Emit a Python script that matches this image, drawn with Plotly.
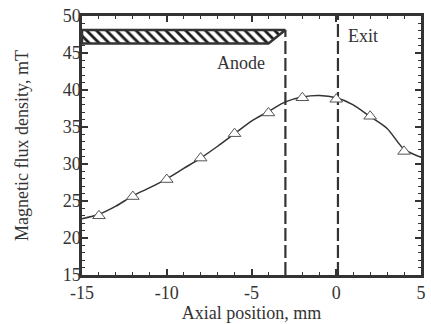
import plotly.graph_objects as go

# ---- data ----
marker_x = [-14, -12, -10, -8, -6, -4, -2, 0, 2, 4]
marker_y = [23.0, 25.6, 27.9, 30.8, 34.1, 36.9, 38.95, 38.75, 36.45, 31.7]

curve_x = [-15, -14, -13, -12, -11, -10, -9, -8, -7, -6, -5, -4, -3, -2, -1, 0, 1, 2, 3, 4, 5]
curve_y = [22.6, 23.2, 24.3, 25.7, 26.8, 28.0, 29.4, 30.8, 32.4, 34.1, 35.8, 37.1, 38.4, 39.05, 39.25, 38.95, 38.0, 36.4, 34.8, 32.0, 30.9]

anode_x = [-15, -4, -3, -15, -15]
anode_y = [46.3, 46.3, 48.1, 48.1, 46.3]

anode_end_x = -3
exit_x = 0.1
y_min, y_max = 15, 50
x_min, x_max = -15, 5

x_ticks = [-15, -10, -5, 0, 5]
y_ticks = [15, 20, 25, 30, 35, 40, 45, 50]

FONT = "Liberation Serif"
DARK = "#333333"

fig = go.Figure()

# anode (hatched)
fig.add_trace(go.Scatter(
    x=anode_x, y=anode_y, mode="lines", fill="toself",
    fillcolor="white",
    fillpattern=dict(shape="\\", size=7, solidity=0.4, fgcolor="#1a1a1a", fgopacity=1,
                     bgcolor="white", fillmode="replace"),
    line=dict(color=DARK, width=2.5), hoverinfo="skip", showlegend=False))

# dashed lines
fig.add_trace(go.Scatter(
    x=[anode_end_x, anode_end_x], y=[y_min, anode_y[2]], mode="lines",
    line=dict(color=DARK, width=2.2, dash="13px,4px"), showlegend=False))
fig.add_trace(go.Scatter(
    x=[exit_x, exit_x], y=[y_min, y_max], mode="lines",
    line=dict(color=DARK, width=2.2, dash="13px,4px"), showlegend=False))

# curve
fig.add_trace(go.Scatter(
    x=curve_x, y=curve_y, mode="lines", line=dict(color=DARK, width=1.5, shape="spline", smoothing=0.8),
    showlegend=False))

# markers
fig.add_trace(go.Scatter(
    x=marker_x, y=marker_y, mode="markers",
    marker=dict(symbol="triangle-up", size=11, color="white", line=dict(color="#555555", width=1)),
    showlegend=False))

fig.add_annotation(x=-5.6, y=43.7, text="Anode", showarrow=False,
                   font=dict(family=FONT, size=18, color=DARK))
fig.add_annotation(x=1.57, y=47.3, text="Exit", showarrow=False,
                   font=dict(family=FONT, size=18, color=DARK))

axis_common = dict(
    showline=True, linewidth=2.5, linecolor=DARK, mirror="ticks",
    ticks="inside", ticklen=6, tickwidth=1.5, tickcolor=DARK,
    showgrid=False, zeroline=False,
    tickfont=dict(family=FONT, size=18, color=DARK),
)

fig.update_xaxes(range=[x_min, x_max], tickvals=x_ticks, ticktext=[str(v) for v in x_ticks],
                 minor=dict(ticks="inside", ticklen=3, dtick=1, tickcolor=DARK, tickwidth=1.2),
                 title=dict(text="Axial position, mm", font=dict(family=FONT, size=18, color=DARK), standoff=2),
                 **axis_common)
fig.update_yaxes(range=[y_min, y_max], tickvals=y_ticks, ticklabelstandoff=-5,
                 minor=dict(ticks="inside", ticklen=3, dtick=1, tickcolor=DARK, tickwidth=1.2),
                 title=dict(text="Magnetic flux density, mT", font=dict(family=FONT, size=18, color=DARK), standoff=30),
                 **axis_common)

fig.update_layout(width=431, height=324, margin=dict(l=82, r=5, t=16, b=49),
                  font=dict(family=FONT),
                  plot_bgcolor="white", paper_bgcolor="white", showlegend=False)

fig.write_html("out.html")
